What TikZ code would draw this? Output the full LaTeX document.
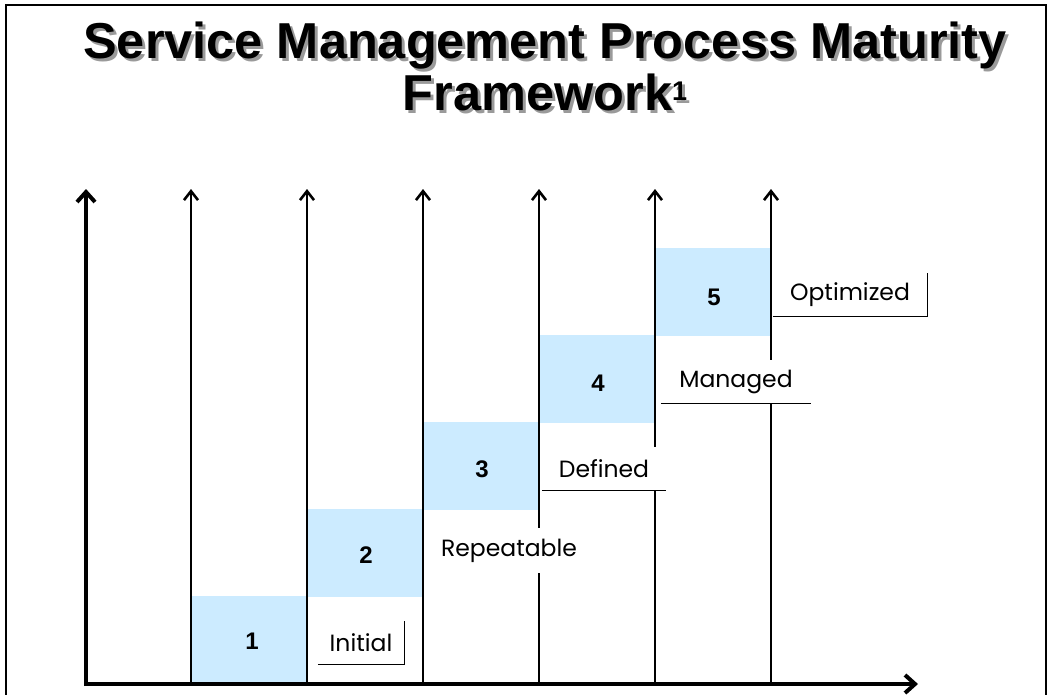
\documentclass[tikz,border=0pt]{standalone}
\usepackage{fontspec}
\setmainfont{Liberation Sans}
\newfontfamily\lblfont{Poppins}
\usetikzlibrary{arrows.meta}
\definecolor{stepblue}{HTML}{CCEBFF}
\definecolor{shadowgray}{HTML}{9A9A9A}
% text with a soft drop shadow set behind it in the same box
\newcommand{\shadowed}[1]{\makebox[0pt][l]{\hspace*{3pt}\raisebox{-3pt}{\textcolor{shadowgray}{#1}}}#1}
\newcommand{\supone}{\raisebox{10pt}{\fontsize{27}{27}\selectfont 1}}
\begin{document}
\begin{tikzpicture}[x=1pt,y=-1pt,
  titletext/.style={font=\bfseries\fontsize{50.5}{52}\selectfont, anchor=base, inner sep=0pt},
  stepbox/.style={fill=stepblue, draw=none},
  stepnum/.style={font=\bfseries\fontsize{24}{26}\selectfont},
  levelbox/.style={fill=white, inner sep=0pt, font=\lblfont\fontsize{23.5}{26}\selectfont},
  levelrule/.style={line width=0.8pt},
  axis/.style={line width=4.5pt, -{Straight Barb[length=10pt,width=18pt,line width=4pt]}},
  guide/.style={line width=2.8pt, -{Straight Barb[length=9pt,width=14pt,line width=2.6pt]}}]
\useasboundingbox (0,0) rectangle (1050,694);

% outer frame
\draw[line width=2pt] (6,700) -- (6,5) -- (1046,5) -- (1046,700);

% title with drop shadow
\node[titletext] (title1) at (545,58) {\shadowed{Service Management Process Maturity}};
\node[titletext] (title2) at (545,110) {\shadowed{Framework\supone}};

% maturity steps
\foreach \i/\xl/\yt in {1/192/596, 2/308/509, 3/424/422, 4/540/335, 5/656/248}{
  \fill[stepbox] (\xl,\yt) rectangle ++(114,88);
}
\node[stepnum] (n1) at (252,641) {1};
\node[stepnum] (n2) at (366,555) {2};
\node[stepnum] (n3) at (482,469) {3};
\node[stepnum] (n4) at (598,383) {4};
\node[stepnum] (n5) at (714,297) {5};

% axes
\coordinate (origin) at (86,684);
\coordinate (ytop) at (86,189);
\coordinate (xend) at (918,684);
\foreach \gx in {191,307,423,539,655,771}{
  \coordinate (g\gx b) at (\gx,684);
  \coordinate (g\gx t) at (\gx,189);
  \draw[guide] (g\gx b) -- (g\gx t);
}
\draw[axis] (86,686.2) -- (ytop);
\draw[axis] (84,684) -- (xend);

% level labels
\node[levelbox, minimum width=86pt, minimum height=43pt] (initial) at (361,642.5) {Initial};
\draw[levelrule] (initial.south west) -- (initial.south east) -- (initial.north east);

\node[levelbox, minimum width=161pt, minimum height=45pt] (repeatable) at (504.5,550.5) {\hspace*{9pt}Repeatable};

\node[levelbox, minimum width=124pt, minimum height=43pt] (defined) at (604,468.5) {Defined};
\draw[levelrule] (defined.south west) -- (defined.south east);

\node[levelbox, minimum width=150pt, minimum height=43pt] (managed) at (736,381.5) {Managed};
\draw[levelrule] (managed.south west) -- (managed.south east);

\node[levelbox, minimum width=154pt, minimum height=43pt] (optimized) at (850,294.5) {Optimized};
\draw[levelrule] (optimized.south west) -- (optimized.south east) -- (optimized.north east);
\end{tikzpicture}
\end{document}
